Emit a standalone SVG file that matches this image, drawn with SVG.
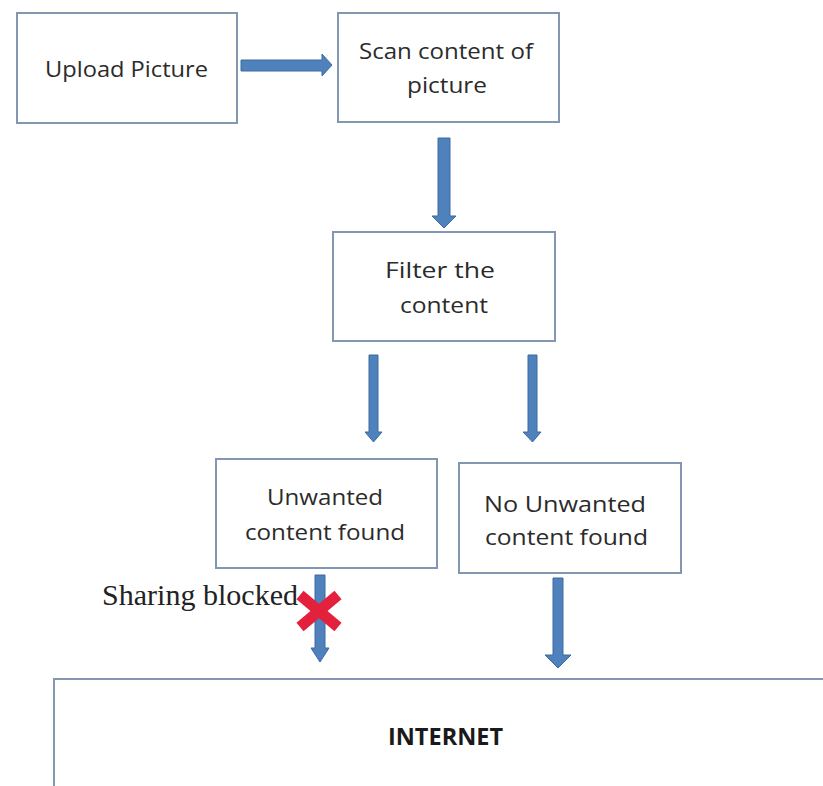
<svg xmlns="http://www.w3.org/2000/svg" width="823" height="786" viewBox="0 0 823 786">
  <style>
    .box { fill: #ffffff; stroke: #8497b0; stroke-width: 2; }
    .lbl { font-family: "Open Sans", "Liberation Sans", sans-serif; font-size: 22px; fill: #2b2b2b; text-anchor: middle; }
    .bold { font-weight: bold; fill: #1a1a1a; font-size: 23px; }
    .arrow { fill: #4f81bd; stroke: #3d6a9e; stroke-width: 1; }
    .note { font-family: "Liberation Serif", "Times New Roman", serif; font-size: 29px; fill: #222222; }
    .cross { stroke: #e3213d; stroke-width: 11; }
  </style>

  <rect width="823" height="786" fill="#ffffff"/>

  <g id="upload">
    <rect class="box" x="17" y="13" width="220" height="110"/>
    <text class="lbl" x="126.5" y="77" textLength="163" lengthAdjust="spacingAndGlyphs">Upload Picture</text>
  </g>

  <g id="scan">
    <rect class="box" x="338" y="13" width="221" height="109"/>
    <text class="lbl" x="446" y="59" textLength="174" lengthAdjust="spacingAndGlyphs">Scan content of</text>
    <text class="lbl" x="447" y="93" textLength="80" lengthAdjust="spacingAndGlyphs">picture</text>
  </g>

  <g id="filter">
    <rect class="box" x="333" y="232" width="222" height="109"/>
    <text class="lbl" x="440" y="278" textLength="110" lengthAdjust="spacingAndGlyphs">Filter the</text>
    <text class="lbl" x="444" y="313" textLength="88" lengthAdjust="spacingAndGlyphs">content</text>
  </g>

  <g id="unwanted">
    <rect class="box" x="216" y="459" width="221" height="109"/>
    <text class="lbl" x="325" y="505" textLength="116" lengthAdjust="spacingAndGlyphs">Unwanted</text>
    <text class="lbl" x="325" y="540" textLength="160" lengthAdjust="spacingAndGlyphs">content found</text>
  </g>

  <g id="no-unwanted">
    <rect class="box" x="459" y="463" width="222" height="110"/>
    <text class="lbl" x="565" y="512" textLength="162" lengthAdjust="spacingAndGlyphs">No Unwanted</text>
    <text class="lbl" x="566.5" y="545" textLength="163" lengthAdjust="spacingAndGlyphs">content found</text>
  </g>

  <g id="internet">
    <rect class="box" x="54" y="679" width="800" height="150"/>
    <text class="lbl bold" x="445.5" y="745" textLength="115" lengthAdjust="spacingAndGlyphs">INTERNET</text>
  </g>

  <g id="connectors">
    <!-- upload -> scan -->
    <path class="arrow" d="M241,60 H322 V54 L332,65 L322,76 V71 H241 Z"/>
    <!-- scan -> filter -->
    <path class="arrow" d="M438,138 H450 V216 H456 L444,228 L432,216 H438 Z"/>
    <!-- filter -> unwanted -->
    <path class="arrow" d="M369,355 H378 V432 H382 L373.5,442 L365,432 H369 Z"/>
    <!-- filter -> no unwanted -->
    <path class="arrow" d="M528,355 H537 V432 H541 L532.5,442 L523,432 H528 Z"/>
    <!-- unwanted -> internet (blocked) -->
    <path class="arrow" d="M315,575 H325 V648 H329 L320,662 L311,648 H315 Z" fill="#4a93bf"/>
    <!-- no unwanted -> internet -->
    <path class="arrow" d="M553,578 H563 V655 H571 L558,668 L545,655 H553 Z"/>
  </g>

  <g id="blocked">
    <text class="note" x="102" y="605" textLength="196" lengthAdjust="spacingAndGlyphs">Sharing blocked</text>
    <line class="cross" x1="300" y1="595" x2="338" y2="627"/>
    <line class="cross" x1="338" y1="595" x2="300" y2="627"/>
  </g>
</svg>
